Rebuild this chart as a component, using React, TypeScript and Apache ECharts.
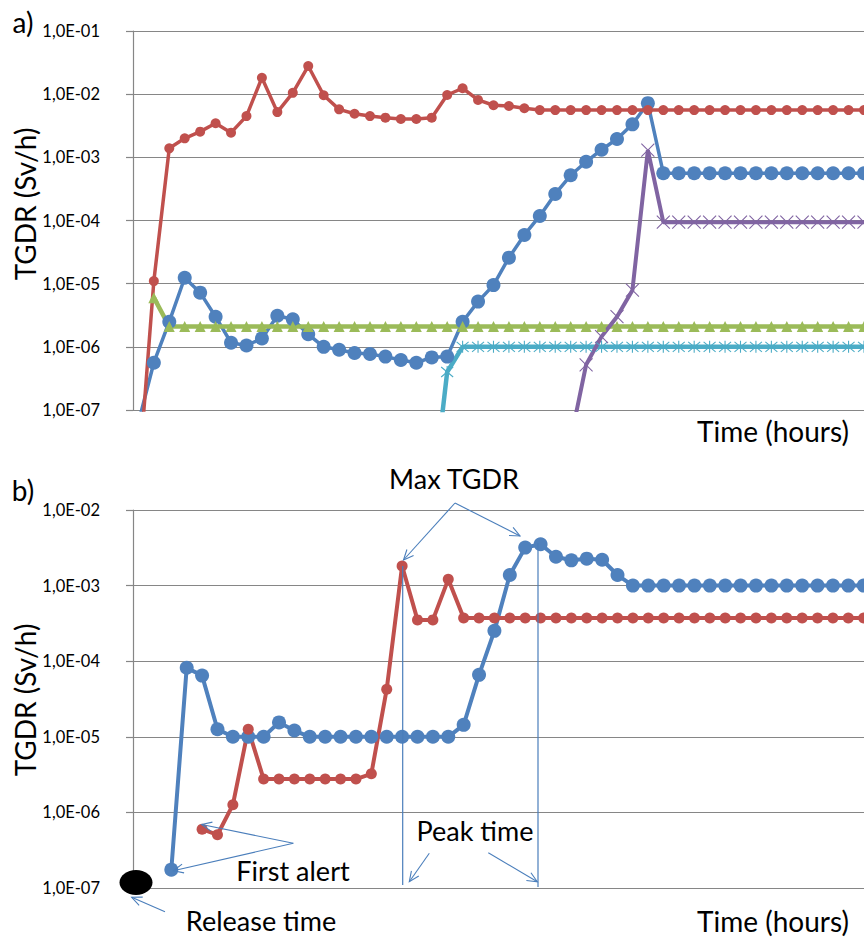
import React, { useEffect, useRef } from "react";
import * as echarts from "echarts";

// ---------- DATA (index = time step, value = TGDR in Sv/h) ----------
const yTickLabels = ["1,0E-07", "1,0E-06", "1,0E-05", "1,0E-04", "1,0E-03", "1,0E-02", "1,0E-01"];

// Chart a)
const aBlue = [
  6.3e-8, 5.6e-7, 2.5e-6, 1.24e-5, 7.2e-6, 3.0e-6, 1.16e-6, 1.05e-6, 1.36e-6, 3.1e-6,
  2.73e-6, 1.58e-6, 1.0e-6, 9.0e-7, 8.0e-7, 7.7e-7, 7.0e-7, 6.2e-7, 5.6e-7, 6.8e-7,
  7.0e-7, 2.5e-6, 5.2e-6, 9.5e-6, 2.58e-5, 5.9e-5, 1.18e-4, 2.63e-4, 5.2e-4, 8.5e-4,
  1.32e-3, 1.95e-3, 3.33e-3, 7.2e-3, 5.6e-4, 5.6e-4, 5.6e-4, 5.6e-4, 5.6e-4, 5.6e-4,
  5.6e-4, 5.6e-4, 5.6e-4, 5.6e-4, 5.6e-4, 5.6e-4, 5.6e-4, 5.6e-4,
];
const aRed = [
  7.4e-9, 1.1e-5, 1.39e-3, 2.0e-3, 2.55e-3, 3.46e-3, 2.46e-3, 4.5e-3, 1.82e-2, 5.2e-3,
  1.05e-2, 2.79e-2, 9.6e-3, 5.75e-3, 4.9e-3, 4.5e-3, 4.25e-3, 4.05e-3, 4.05e-3, 4.25e-3,
  9.7e-3, 1.24e-2, 8.1e-3, 6.67e-3, 6.5e-3, 5.98e-3, 5.6e-3, 5.6e-3, 5.6e-3, 5.6e-3,
  5.6e-3, 5.6e-3, 5.6e-3, 5.6e-3, 5.6e-3, 5.6e-3, 5.6e-3, 5.6e-3, 5.6e-3, 5.6e-3,
  5.6e-3, 5.6e-3, 5.6e-3, 5.6e-3, 5.6e-3, 5.6e-3, 5.6e-3, 5.6e-3,
];
const aGreen = [
  null, 6.0e-6, 2.1e-6, 2.1e-6, 2.1e-6, 2.1e-6, 2.1e-6, 2.1e-6, 2.1e-6, 2.1e-6,
  2.1e-6, 2.1e-6, 2.1e-6, 2.1e-6, 2.1e-6, 2.1e-6, 2.1e-6, 2.1e-6, 2.1e-6, 2.1e-6,
  2.1e-6, 2.1e-6, 2.1e-6, 2.1e-6, 2.1e-6, 2.1e-6, 2.1e-6, 2.1e-6, 2.1e-6, 2.1e-6,
  2.1e-6, 2.1e-6, 2.1e-6, 2.1e-6, 2.1e-6, 2.1e-6, 2.1e-6, 2.1e-6, 2.1e-6, 2.1e-6,
  2.1e-6, 2.1e-6, 2.1e-6, 2.1e-6, 2.1e-6, 2.1e-6, 2.1e-6, 2.1e-6,
];
const aCyan = [
  null, null, null, null, null, null, null, null, null, null,
  null, null, null, null, null, null, null, null, null, 3.0e-9,
  4.0e-7, 1.0e-6, 1.0e-6, 1.0e-6, 1.0e-6, 1.0e-6, 1.0e-6, 1.0e-6, 1.0e-6, 1.0e-6,
  1.0e-6, 1.0e-6, 1.0e-6, 1.0e-6, 1.0e-6, 1.0e-6, 1.0e-6, 1.0e-6, 1.0e-6, 1.0e-6,
  1.0e-6, 1.0e-6, 1.0e-6, 1.0e-6, 1.0e-6, 1.0e-6, 1.0e-6, 1.0e-6,
];
const aPurple = [
  null, null, null, null, null, null, null, null, null, null,
  null, null, null, null, null, null, null, null, null, null,
  null, null, null, null, null, null, null, null, 3.4e-8, 5.2e-7,
  1.45e-6, 3.0e-6, 7.9e-6, 1.3e-3, 9.4e-5, 9.4e-5, 9.4e-5, 9.4e-5, 9.4e-5, 9.4e-5,
  9.4e-5, 9.4e-5, 9.4e-5, 9.4e-5, 9.4e-5, 9.4e-5, 9.4e-5, 9.4e-5,
];

// Chart b)
const bBlue = [
  null, null, 1.75e-7, 8.2e-5, 6.45e-5, 1.26e-5, 1.0e-5, 1.0e-5, 1.0e-5, 1.55e-5,
  1.21e-5, 1.0e-5, 1.0e-5, 1.0e-5, 1.0e-5, 1.0e-5, 1.0e-5, 1.0e-5, 1.0e-5, 1.0e-5,
  1.0e-5, 1.44e-5, 6.6e-5, 2.52e-4, 1.38e-3, 3.18e-3, 3.52e-3, 2.41e-3, 2.16e-3, 2.27e-3,
  2.2e-3, 1.38e-3, 1.0e-3, 1.0e-3, 1.0e-3, 1.0e-3, 1.0e-3, 1.0e-3, 1.0e-3, 1.0e-3,
  1.0e-3, 1.0e-3, 1.0e-3, 1.0e-3, 1.0e-3, 1.0e-3, 1.0e-3, 1.0e-3,
];
const bRed = [
  null, null, null, null, 6.0e-7, 5.06e-7, 1.26e-6, 1.26e-5, 2.76e-6, 2.76e-6,
  2.76e-6, 2.76e-6, 2.76e-6, 2.76e-6, 2.76e-6, 3.24e-6, 4.27e-5, 1.82e-3, 3.52e-4, 3.52e-4,
  1.21e-3, 3.74e-4, 3.74e-4, 3.74e-4, 3.74e-4, 3.74e-4, 3.74e-4, 3.74e-4, 3.74e-4, 3.74e-4,
  3.74e-4, 3.74e-4, 3.74e-4, 3.74e-4, 3.74e-4, 3.74e-4, 3.74e-4, 3.74e-4, 3.74e-4, 3.74e-4,
  3.74e-4, 3.74e-4, 3.74e-4, 3.74e-4, 3.74e-4, 3.74e-4, 3.74e-4, 3.74e-4,
];

// ---------- STYLE ----------
const FONT = "Lato, 'Open Sans', sans-serif";
const GRID_GRAY = "#868686";
const ANNO = "#4A7EBB";
const C_BLUE = "#4F81BD";
const C_RED = "#C0504D";
const C_GREEN = "#9BBB59";
const C_CYAN = "#4BACC6";
const C_PURPLE = "#8064A2";

const X_MARK = "path://M0,0L10,10M10,0L0,10";
const STAR_MARK = "path://M0,0L10,10M10,0L0,10M5,-1L5,11";

function toData(arr: (number | null)[]) {
  const out: any[] = [];
  arr.forEach((v, i) => {
    if (v == null) return;
    if (v < 1e-7) out.push({ value: [i, v], symbol: "none" });
    else out.push([i, v]);
  });
  return out;
}

function fmtTick(v: number) {
  const e = Math.round(Math.log10(v));
  return yTickLabels[e + 7] ?? "";
}

function arrowLine(x1: number, y1: number, x2: number, y2: number) {
  const ang = Math.atan2(y2 - y1, x2 - x1);
  const L = 11;
  const a = 0.42;
  const p1 = [x2 - L * Math.cos(ang - a), y2 - L * Math.sin(ang - a)];
  const p2 = [x2 - L * Math.cos(ang + a), y2 - L * Math.sin(ang + a)];
  return [
    { type: "line", z: 100, shape: { x1, y1, x2, y2 }, style: { stroke: ANNO, lineWidth: 1.1 } },
    { type: "polyline", z: 100, shape: { points: [p1, [x2, y2], p2] }, style: { stroke: ANNO, lineWidth: 1.1, fill: null } },
  ];
}

function txt(text: string, x: number, y: number, size = 28, rotation = 0) {
  return {
    type: "text",
    z: 100,
    x,
    y,
    rotation,
    style: {
      text,
      font: `${size}px ${FONT}`,
      fill: "#000",
      align: "center",
      verticalAlign: "middle",
      textAlign: "center",
      textVerticalAlign: "middle",
    },
  };
}

function yAxisCfg(gridIndex: number, max: number) {
  return {
    type: "log",
    logBase: 10,
    gridIndex,
    min: 1e-7,
    max,
    axisLine: { show: true, onZero: false, lineStyle: { color: GRID_GRAY, width: 1.2 } },
    axisTick: { show: true, length: 7, lineStyle: { color: GRID_GRAY, width: 1.2 } },
    axisLabel: { formatter: fmtTick, fontFamily: FONT, fontSize: 16.5, color: "#000", margin: 33 },
    splitLine: { show: true, lineStyle: { color: GRID_GRAY, width: 1.2 } },
  };
}

function lineSeries(
  data: (number | null)[],
  axis: number,
  color: string,
  symbol: string,
  symbolSize: number,
  width: number,
  stroke = false
) {
  return {
    type: "line",
    xAxisIndex: axis,
    yAxisIndex: axis,
    data: toData(data),
    symbol,
    symbolSize,
    showAllSymbol: true,
    clip: true,
    lineStyle: { color, width },
    itemStyle: stroke
      ? { color: "rgba(0,0,0,0)", borderColor: color, borderWidth: 1.1 }
      : { color, borderWidth: 0 },
    emphasis: { disabled: true },
  };
}

export default function App() {
  const ref = useRef<HTMLDivElement>(null);

  useEffect(() => {
    if (!ref.current) return;
    const chart = echarts.init(ref.current, null, { renderer: "svg" });

    const graphic: any[] = [
      txt("a)", 23, 22, 28),
      txt("b)", 23, 490, 28),
      txt("TGDR (Sv/h)", 25, 204, 28, Math.PI / 2),
      txt("TGDR (Sv/h)", 25, 700, 28, Math.PI / 2),
      txt("Time (hours)", 773, 431, 28),
      txt("Time (hours)", 773, 921, 28),
      txt("Max TGDR", 454, 478, 27),
      txt("Peak time", 475, 830, 27),
      txt("First alert", 293, 870, 27),
      txt("Release time", 261, 920, 27),
      { type: "ellipse", z: 100, shape: { cx: 136, cy: 882.5, rx: 16.5, ry: 12.5 }, style: { fill: "#000" } },
      { type: "line", z: 99, shape: { x1: 402.7, y1: 566, x2: 402.7, y2: 885 }, style: { stroke: ANNO, lineWidth: 1.2 } },
      { type: "line", z: 99, shape: { x1: 538, y1: 543, x2: 538, y2: 887 }, style: { stroke: ANNO, lineWidth: 1.2 } },
      ...arrowLine(455, 503, 403.5, 560),
      ...arrowLine(455, 503, 520, 536),
      ...arrowLine(429.3, 853.3, 409.3, 881.7),
      ...arrowLine(488.3, 852.7, 537.3, 881.7),
      ...arrowLine(293.3, 843.3, 201.7, 824.5),
      ...arrowLine(293.3, 843.3, 173.3, 870.7),
      ...arrowLine(165, 911.7, 131.7, 897.3),
    ];

    chart.setOption({
      animation: false,
      grid: [
        { left: 133, top: 31, right: 0, height: 379 },
        { left: 133, top: 510, right: 0, height: 378 },
      ],
      xAxis: [
        { type: "value", gridIndex: 0, min: -0.35, max: 47.0, show: false },
        { type: "value", gridIndex: 1, min: -0.49, max: 47.02, show: false },
      ],
      yAxis: [yAxisCfg(0, 1e-1), yAxisCfg(1, 1e-2)],
      series: [
        lineSeries(aBlue, 0, C_BLUE, "circle", 14, 3.5),
        lineSeries(aRed, 0, C_RED, "circle", 10, 3.5),
        lineSeries(aGreen, 0, C_GREEN, "triangle", 11, 4.5),
        lineSeries(aCyan, 0, C_CYAN, STAR_MARK, 12, 4.5, true),
        lineSeries(aPurple, 0, C_PURPLE, X_MARK, 13, 4, true),
        lineSeries(bBlue, 1, C_BLUE, "circle", 14, 4),
        lineSeries(bRed, 1, C_RED, "circle", 11, 4),
      ],
      graphic,
    });

    return () => chart.dispose();
  }, []);

  return (
    <div
      ref={ref}
      style={{ position: "absolute", left: 0, top: 0, width: 864, height: 943, background: "#fff" }}
    />
  );
}
